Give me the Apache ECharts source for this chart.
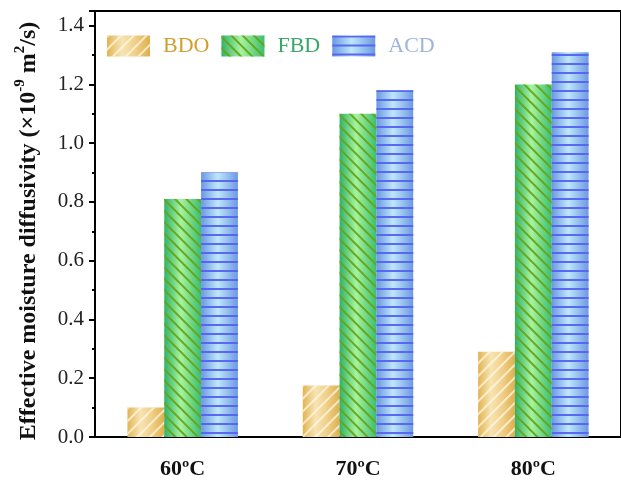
<!DOCTYPE html>
<html>
<head>
<meta charset="utf-8">
<script src="https://cdn.jsdelivr.net/npm/echarts@6/dist/echarts.min.js"></script>
<style>html,body{margin:0;padding:0;background:#fff;}#c{width:621px;height:480px;}</style>
</head>
<body>
<div id="c"></div>
<script>
const categories = ['60ºC', '70ºC', '80ºC'];
const seriesNames = ['BDO', 'FBD', 'ACD'];
const bdoValues = [0.10, 0.175, 0.29];
const fbdValues = [0.81, 1.10, 1.20];
const acdValues = [0.90, 1.18, 1.31];
const yTicks = [0, 0.2, 0.4, 0.6, 0.8, 1.0, 1.2, 1.4];

const serif = '"Liberation Serif", "Times New Roman", serif';
function grad(stops) {
  return new echarts.graphic.LinearGradient(0, 0, 1, 0, stops.map((c, i) => ({offset: c[0], color: c[1]})));
}
const styles = {
  BDO: {
    color: grad([[0, '#E2B453'], [0.35, '#F7E4B3'], [0.65, '#F0D08A'], [1, '#DFAF4E']]),
    decal: {symbol: 'rect', symbolSize: 1, dashArrayX: [10, 0], dashArrayY: [1.5, 6.5], rotation: -Math.PI / 4, color: 'rgba(255,248,225,0.75)', backgroundColor: 'rgba(0,0,0,0)'},
    text: '#D19F2E'
  },
  FBD: {
    color: grad([[0, '#2FB26C'], [0.45, '#A8F39D'], [1, '#3BBE72']]),
    decal: {symbol: 'rect', symbolSize: 1, dashArrayX: [10, 0], dashArrayY: [2, 6], rotation: Math.PI / 4, color: 'rgba(100,165,25,0.95)', backgroundColor: 'rgba(0,0,0,0)'},
    text: '#3AA86A'
  },
  ACD: {
    color: grad([[0, '#6B98DF'], [0.45, '#BEE7FB'], [1, '#6D99E1']]),
    decal: {symbol: 'rect', symbolSize: 1, dashArrayX: [10, 0], dashArrayY: [2, 6.8], rotation: 0, color: 'rgba(85,98,242,0.95)', backgroundColor: 'rgba(0,0,0,0)'},
    text: '#9DB3E0'
  }
};
const dataMap = {BDO: bdoValues, FBD: fbdValues, ACD: acdValues};

const chart = echarts.init(document.getElementById('c'), null, {renderer: 'canvas'});
chart.setOption({
  animation: false,
  aria: {enabled: true, decal: {show: true}},
  grid: {left: 95, top: 11, right: -8, bottom: 41, show: true, borderColor: '#000', borderWidth: 2, backgroundColor: 'transparent'},
  legend: {
    left: 102, top: 30, orient: 'horizontal',
    itemWidth: 43, itemHeight: 21, itemGap: 12,
    icon: 'rect',
    data: seriesNames.map(n => ({name: n, textStyle: {color: styles[n].text}})),
    textStyle: {fontFamily: serif, fontSize: 22, padding: [0, 0, 0, 8]}
  },
  xAxis: {
    type: 'category', data: categories,
    axisLine: {lineStyle: {color: '#000', width: 2}},
    axisTick: {alignWithLabel: true, length: 7, lineStyle: {color: '#000', width: 2}},
    axisLabel: {fontFamily: serif, fontSize: 22, fontWeight: 'bold', color: '#111', margin: 21}
  },
  yAxis: {
    type: 'value', min: 0, max: 1.45, interval: 0.2,
    name: '{b|Effective moisture diffusivity (×10}{s|-9}{b| m}{s|2}{b|/s)}',
    nameLocation: 'middle', nameGap: 54, nameRotate: 90,
    nameTextStyle: {
      padding: [0, 14, 0, 0],
      rich: {
        b: {fontFamily: serif, fontSize: 24, fontWeight: 'bold', color: '#111', lineHeight: 28, verticalAlign: 'bottom'},
        s: {fontFamily: serif, fontSize: 15, fontWeight: 'bold', color: '#111', lineHeight: 28, verticalAlign: 'top'}
      }
    },
    axisLine: {show: true, lineStyle: {color: '#000', width: 2}},
    axisTick: {show: true, length: 6, lineStyle: {color: '#000', width: 2}},
    minorTick: {show: true, splitNumber: 2, length: 3, lineStyle: {color: '#000', width: 2}},
    splitLine: {show: false},
    axisLabel: {
      fontFamily: serif, fontSize: 21, color: '#222', margin: 11,
      showMaxLabel: false,
      formatter: v => yTicks.some(t => Math.abs(t - v) < 1e-6) ? v.toFixed(1) : ''
    }
  },
  series: seriesNames.map(n => ({
    name: n, type: 'bar', data: dataMap[n],
    barGap: '0%', barCategoryGap: '37%',
    itemStyle: {color: styles[n].color, decal: styles[n].decal}
  }))
});
</script>
</body>
</html>
